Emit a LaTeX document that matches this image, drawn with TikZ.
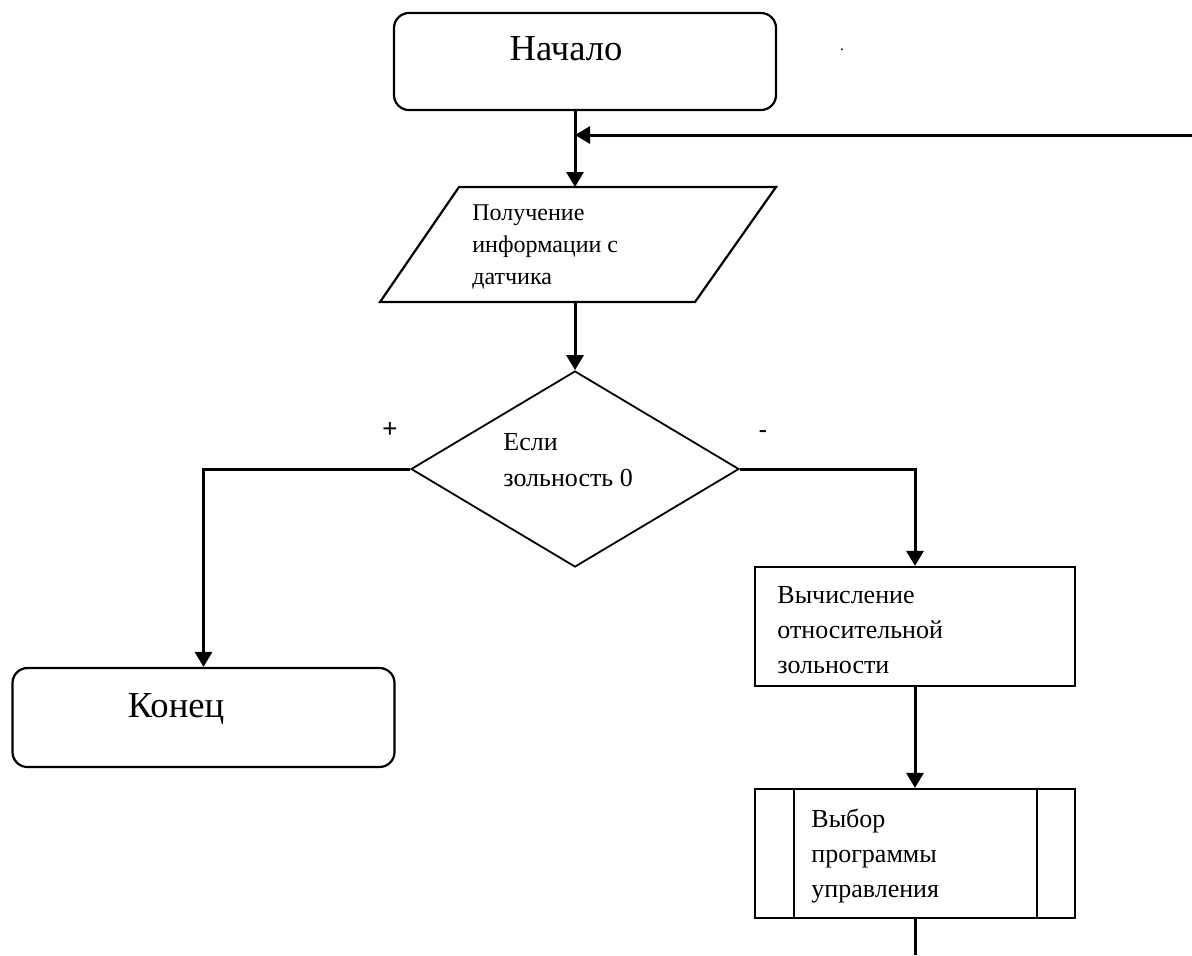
\documentclass[tikz,border=0pt]{standalone}
\usepackage{fontspec}
\setmainfont{Liberation Serif}
\newfontfamily\signfont{Liberation Sans}
\usetikzlibrary{arrows.meta,shapes.geometric}

\begin{document}
\begin{tikzpicture}[x=0.5pt, y=-0.5pt,
    Box/.style={draw, line width=1.1pt, inner sep=0pt},
    Term/.style={Box, rounded corners=7.5pt, minimum width=191pt},
    Conn/.style={line width=1.5pt, -{Triangle[length=7.5pt,width=8.5pt]}},
    Plain/.style={line width=1.5pt},
    Txt/.style={inner sep=0pt, align=left, font=\fontsize{13pt}{17.5pt}\selectfont},
    BigTxt/.style={inner sep=0pt, font=\fontsize{18.3pt}{22pt}\selectfont},
    Sign/.style={inner sep=0pt, font=\signfont\fontsize{13pt}{15pt}\selectfont}]

    %%Background
    \useasboundingbox (0,0) rectangle (1192,955);

    %% Blocks
    \node[Term, minimum height=48.5pt] (start) at (585,61.5) {};
    % input parallelogram
    \draw[line width=1.1pt] (459,187) to (776,187) to (695,302) to (380,302) -- cycle;
    \coordinate (inpTop) at (575,187);
    \coordinate (inpBot) at (575,302);
    \node[diamond, Box, line width=0.9pt, minimum width=164pt, minimum height=98pt] (cond) at (575,469) {};
    \node[Term, minimum height=49.5pt] (stop) at (203.5,717.5) {};
    \node[Box, minimum width=160pt, minimum height=59.5pt] (calc) at (915,626.5) {};
    \node[Box, minimum width=160pt, minimum height=64.5pt] (sel) at (915,853.5) {};
    \draw[line width=1.1pt]
    ([xshift=20pt]sel.north west) to ([xshift=20pt]sel.south west)
    ([xshift=-19.5pt]sel.north east) to ([xshift=-19.5pt]sel.south east)
    ;

    %% Texts
    \node[BigTxt, anchor=base] (startTxt) at (566,60) {Начало};
    \node[Txt, font=\fontsize{12pt}{16pt}\selectfont, anchor=north west] (inpTxt) at (472,204)
    {Получение\\информации с\\датчика};
    \node[Txt, font=\fontsize{13pt}{18pt}\selectfont, anchor=north west] (condTxt) at (503,433)
    {Если\\зольность 0};
    \node[Txt, anchor=north west] (calcTxt) at (777,586) {Вычисление\\относительной\\зольности};
    \node[Txt, anchor=north west] (selTxt) at (811,808) {Выбор\\программы\\управления};
    \node[BigTxt, anchor=base] (stopTxt) at (176,717) {Конец};
    \node[Sign] (plus) at (390,430) {+};
    \node[Sign] (minus) at (763,435) {-};
    \node[inner sep=0pt, font=\fontsize{8pt}{8pt}\selectfont] (dot) at (842,50) {.};

    %% Connectors
    \coordinate (loop) at (1192,135);
    \coordinate (out) at (915,955);
    \draw[Conn] (start.south -| inpTop) to (inpTop);
    \draw[Conn] (loop) to (loop -| inpTop);
    \draw[Conn] (inpBot) to (cond.north);
    \draw[Conn] (cond.west) -| (stop.north);
    \draw[Conn] (cond.east) -| (calc.north);
    \draw[Conn] (calc.south) to (sel.north);
    \draw[Plain] (sel.south) to (out);

\end{tikzpicture}
\end{document}
